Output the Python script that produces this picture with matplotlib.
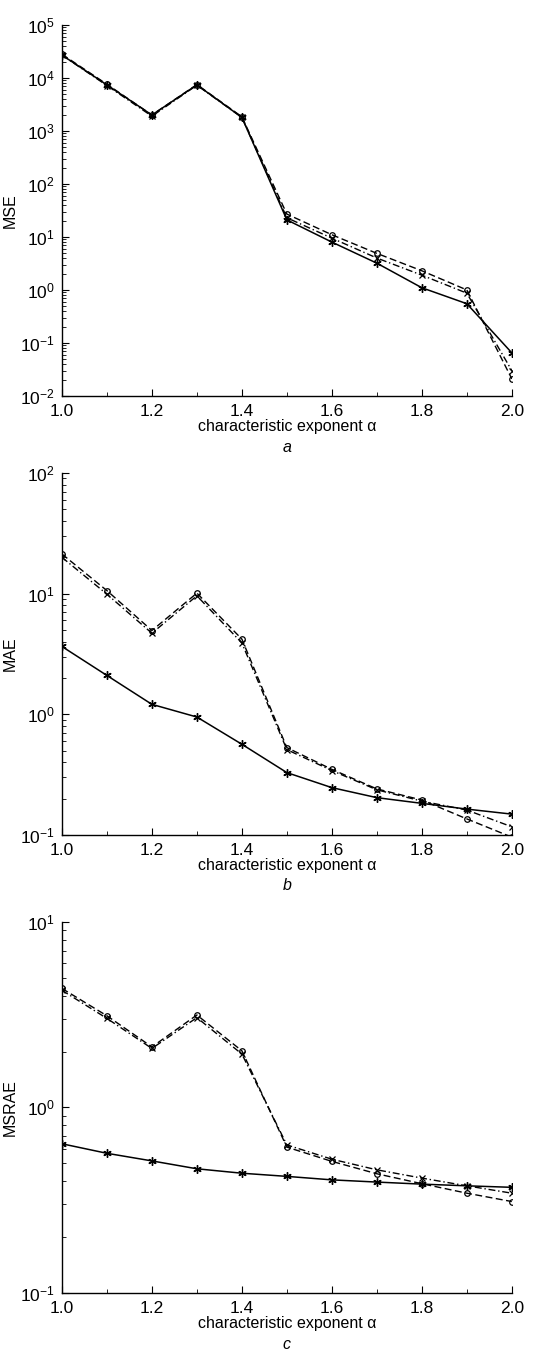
import numpy as np
import matplotlib
matplotlib.use('Agg')
import matplotlib.pyplot as plt
from matplotlib.ticker import LogLocator, MultipleLocator, FormatStrFormatter, NullFormatter

plt.rcParams['font.family'] = ['Liberation Sans', 'DejaVu Sans']
plt.rcParams['mathtext.fontset'] = 'custom'
plt.rcParams['mathtext.rm'] = 'Liberation Sans'
plt.rcParams['mathtext.it'] = 'Liberation Sans:italic'
plt.rcParams['font.size'] = 11

alpha = [1.0, 1.1, 1.2, 1.3, 1.4, 1.5, 1.6, 1.7, 1.8, 1.9, 2.0]

# panel a: MSE
mse_solid = [2.7e4, 7.4e3, 2.0e3, 7.4e3, 1.8e3, 21, 8.0, 3.2, 1.1, 0.55, 0.065]
mse_dash = [2.8e4, 7.6e3, 2.0e3, 7.5e3, 1.85e3, 27, 11, 4.9, 2.3, 1.0, 0.021]
mse_dashdot = [2.7e4, 7.2e3, 1.9e3, 7.3e3, 1.8e3, 23, 9.5, 4.0, 1.9, 0.87, 0.03]

# panel b: MAE
mae_solid = [3.65, 2.1, 1.21, 0.95, 0.565, 0.329, 0.247, 0.204, 0.183, 0.164, 0.149]
mae_dash = [21.3, 10.6, 4.95, 10.1, 4.2, 0.53, 0.35, 0.241, 0.195, 0.136, 0.096]
mae_dashdot = [20, 9.9, 4.7, 9.6, 3.9, 0.51, 0.342, 0.237, 0.191, 0.161, 0.117]

# panel c: MSRAE
msrae_solid = [0.637, 0.566, 0.515, 0.467, 0.442, 0.425, 0.407, 0.396, 0.386, 0.378, 0.371]
msrae_dash = [4.38, 3.12, 2.12, 3.15, 2.02, 0.611, 0.512, 0.439, 0.388, 0.345, 0.311]
msrae_dashdot = [4.28, 3.02, 2.08, 3.05, 1.94, 0.628, 0.526, 0.461, 0.416, 0.378, 0.345]

panels = [
    ('MSE', mse_solid, mse_dash, mse_dashdot, (1e-2, 1e5), 'a'),
    ('MAE', mae_solid, mae_dash, mae_dashdot, (1e-1, 1e2), 'b'),
    ('MSRAE', msrae_solid, msrae_dash, msrae_dashdot, (1e-1, 1e1), 'c'),
]

# axes rectangles [left, bottom, width, height] in figure fraction
rects = [
    [0.113, 0.708, 0.821, 0.2736],
    [0.113, 0.3842, 0.821, 0.267],
    [0.113, 0.0465, 0.821, 0.2736],
]

fig = plt.figure(figsize=(5.48, 13.56), dpi=100)

asterisk = (6, 2, 0)

for (ylab, solid, dash, dashdot, ylim, tag), rect in zip(panels, rects):
    ax = fig.add_axes(rect)
    ax.plot(alpha, dash, color='black', linestyle=(0, (5, 2.5)), linewidth=1.0,
            marker='o', markersize=4, markerfacecolor='none', markeredgewidth=0.9)
    ax.plot(alpha, dashdot, color='black', linestyle=(0, (5, 2, 1, 2)), linewidth=1.0,
            marker='x', markersize=4, markeredgewidth=0.9)
    ax.plot(alpha, solid, color='black', linestyle='-', linewidth=1.1,
            marker=asterisk, markersize=6, markeredgewidth=1.0)

    ax.set_yscale('log')
    ax.set_xlim(1.0, 2.0)
    ax.set_ylim(*ylim)
    ax.yaxis.set_major_locator(LogLocator(base=10, numticks=20))
    ax.yaxis.set_minor_locator(LogLocator(base=10, subs=np.arange(2, 10), numticks=100))
    ax.yaxis.set_minor_formatter(NullFormatter())
    ax.xaxis.set_major_locator(MultipleLocator(0.2))
    ax.xaxis.set_minor_locator(MultipleLocator(0.1))
    ax.xaxis.set_major_formatter(FormatStrFormatter('%.1f'))

    ax.spines['top'].set_visible(False)
    ax.spines['right'].set_visible(False)
    ax.spines['left'].set_linewidth(1.0)
    ax.spines['bottom'].set_linewidth(1.0)
    ax.tick_params(which='both', direction='in', labelsize=12.5)
    ax.tick_params(which='major', length=5, width=0.8)
    ax.tick_params(which='minor', length=3, width=0.6)
    ax.tick_params(axis='x', pad=6)
    ax.tick_params(axis='y', pad=5)

    ax.set_ylabel(ylab, fontsize=11.5)
    ax.yaxis.set_label_coords(-0.098, 0.5)
    ax.set_xlabel('characteristic exponent α', fontsize=11.5, labelpad=0)
    ax.text(0.5, -0.118, tag, transform=ax.transAxes, ha='center', va='top',
            fontsize=11.5, style='italic')

fig.savefig('out.png', dpi=100)
